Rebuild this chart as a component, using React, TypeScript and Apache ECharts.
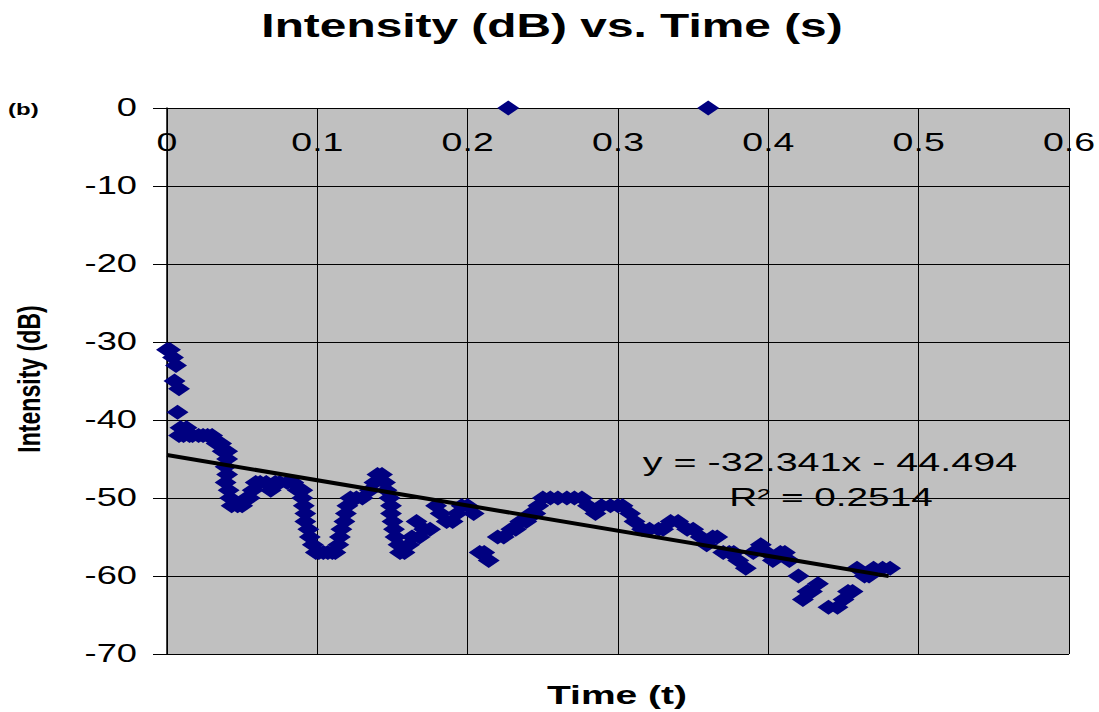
import React, { useEffect, useRef } from "react";
import * as echarts from "echarts";

// Axis ticks and their labels
const xTicks = [0, 0.1, 0.2, 0.3, 0.4, 0.5, 0.6];
const xTickLabels = ["0", "0.1", "0.2", "0.3", "0.4", "0.5", "0.6"];
const yTicks = [0, -10, -20, -30, -40, -50, -60, -70];
const yTickLabels = ["0", "-10", "-20", "-30", "-40", "-50", "-60", "-70"];

// Measured intensity: [time (s), intensity (dB)]
const intensity: [number, number][] = [
  [0.0, -31], [0.002, -31], [0.004, -32], [0.006, -33], [0.005, -35], [0.008, -36],
  [0.007, -39], [0.009, -41], [0.008, -42], [0.011, -42], [0.013, -41], [0.015, -42],
  [0.017, -42], [0.021, -42], [0.024, -42], [0.027, -42], [0.03, -42], [0.033, -43],
  [0.036, -43], [0.037, -44], [0.04, -44], [0.04, -45], [0.039, -46], [0.04, -47],
  [0.039, -48], [0.041, -49], [0.042, -50], [0.043, -51], [0.047, -51], [0.05, -51],
  [0.053, -50], [0.055, -50], [0.057, -49], [0.059, -48], [0.062, -48], [0.066, -48],
  [0.069, -49], [0.072, -48], [0.075, -48], [0.08, -48], [0.084, -48], [0.087, -49],
  [0.09, -49], [0.09, -50], [0.091, -51], [0.092, -52], [0.092, -53], [0.094, -54],
  [0.095, -55], [0.097, -56], [0.099, -57], [0.101, -57], [0.104, -57], [0.107, -57],
  [0.11, -57], [0.112, -57], [0.114, -56], [0.115, -55], [0.116, -54], [0.118, -53],
  [0.119, -52], [0.12, -51], [0.122, -50], [0.126, -50], [0.13, -50], [0.135, -49],
  [0.138, -48], [0.14, -47], [0.143, -47], [0.145, -48], [0.146, -49], [0.148, -50],
  [0.149, -51], [0.149, -52], [0.15, -53], [0.151, -54], [0.152, -55], [0.154, -56],
  [0.155, -57], [0.158, -57], [0.161, -56], [0.163, -55], [0.166, -53], [0.168, -55],
  [0.171, -54], [0.175, -54], [0.179, -51], [0.182, -52], [0.186, -53], [0.19, -53],
  [0.193, -52], [0.196, -51], [0.2, -51], [0.204, -52], [0.208, -57], [0.211, -57],
  [0.214, -58], [0.22, -55], [0.224, -55], [0.227, 0], [0.229, -54], [0.232, -54],
  [0.235, -53], [0.239, -53], [0.242, -52], [0.245, -52], [0.247, -51], [0.25, -50],
  [0.255, -50], [0.26, -50], [0.266, -50], [0.271, -50], [0.276, -50], [0.28, -51],
  [0.285, -52], [0.289, -51], [0.295, -51], [0.3, -51], [0.303, -51], [0.308, -52],
  [0.311, -53], [0.316, -54], [0.321, -54], [0.327, -54], [0.33, -54], [0.335, -53],
  [0.34, -53], [0.346, -54], [0.35, -54], [0.355, -55], [0.359, -56], [0.36, 0],
  [0.363, -55], [0.366, -55], [0.37, -57], [0.374, -57], [0.377, -57], [0.38, -58],
  [0.385, -59], [0.39, -57], [0.395, -56], [0.399, -57], [0.403, -58], [0.408, -57],
  [0.411, -57], [0.414, -58], [0.42, -60], [0.423, -63], [0.426, -62], [0.429, -62],
  [0.433, -61], [0.44, -64], [0.446, -64], [0.45, -63], [0.453, -62], [0.456, -62],
  [0.459, -59], [0.464, -60], [0.467, -60], [0.47, -59], [0.476, -59], [0.481, -59],
];

// Linear trendline as printed on the chart
const trendSlope = -32.341;
const trendIntercept = -44.494;
const trendStart = 0;
const trendEnd = 0.48;
const trendEquation = "y = -32.341x - 44.494";
const trendR2 = "R\u00b2 = 0.2514";

const FONT = "'Liberation Sans', Arial, sans-serif";
const STRETCH = 1.5;

function textEl(
  text: string,
  x: number,
  y: number,
  size: number,
  opts: { bold?: boolean; align?: string; vAlign?: string; sx?: number; sy?: number; rotation?: number } = {}
) {
  const align = opts.align ?? "center";
  const vAlign = opts.vAlign ?? "middle";
  return {
    type: "text",
    x,
    y,
    rotation: opts.rotation ?? 0,
    scaleX: opts.sx ?? STRETCH,
    scaleY: opts.sy ?? 1,
    z: 100,
    style: {
      text,
      fill: "#000",
      fontSize: size,
      fontFamily: FONT,
      fontWeight: opts.bold ? "bold" : "normal",
      align,
      textAlign: align,
      verticalAlign: vAlign,
      textVerticalAlign: vAlign,
    },
  };
}

export default function App() {
  const ref = useRef<HTMLDivElement>(null);

  useEffect(() => {
    if (!ref.current) return;
    const chart = echarts.init(ref.current, null, { renderer: "svg" });

    const trendLine = [
      [trendStart, trendSlope * trendStart + trendIntercept],
      [trendEnd, trendSlope * trendEnd + trendIntercept],
    ];

    chart.setOption({
      animation: false,
      backgroundColor: "#ffffff",
      grid: {
        left: 167,
        right: 30,
        top: 108,
        bottom: 58,
        show: true,
        backgroundColor: "#c0c0c0",
        borderWidth: 0,
      },
      xAxis: {
        type: "value",
        min: 0,
        max: 0.6,
        interval: 0.1,
        axisLine: { show: true, onZero: true, lineStyle: { color: "#000", width: 1 } },
        axisTick: { show: false },
        axisLabel: { show: false },
        splitLine: { show: true, lineStyle: { color: "#000", width: 1 } },
      },
      yAxis: {
        type: "value",
        min: -70,
        max: 0,
        interval: 10,
        axisLine: { show: true, onZero: false, lineStyle: { color: "#000", width: 1.5 } },
        axisTick: { show: true, length: 14, lineStyle: { color: "#000", width: 1 } },
        axisLabel: { show: false },
        splitLine: { show: true, lineStyle: { color: "#000", width: 1 } },
      },
      series: [
        {
          type: "scatter",
          data: intensity,
          symbol: "diamond",
          symbolSize: [22, 15],
          itemStyle: { color: "#000080", opacity: 1 },
          clip: false,
          z: 3,
        },
        {
          type: "line",
          data: trendLine,
          symbol: "none",
          lineStyle: { color: "#000", width: 4 },
          z: 4,
        },
      ],
    });

    const toPx = (x: number, y: number) =>
      chart.convertToPixel({ gridIndex: 0 }, [x, y]) as number[];

    const graphics: any[] = [];
    xTicks.forEach((v, i) => {
      const [gx] = toPx(v, 0);
      graphics.push(textEl(xTickLabels[i], gx, 142, 25));
    });
    yTicks.forEach((v, i) => {
      const [, gy] = toPx(0, v);
      graphics.push(textEl(yTickLabels[i], 137, gy, 25, { align: "right", sx: 1.45 }));
    });
    graphics.push(textEl("Intensity (dB) vs. Time (s)", 552, 26, 33, { bold: true, sx: 1.45 }));
    graphics.push(textEl("(b)", 8, 110, 16, { bold: true, align: "left", sx: 1.5 }));
    graphics.push(textEl("Time (t)", 617, 695, 26, { bold: true, sx: 1.5 }));
    graphics.push(
      textEl("Intensity (dB)", 29, 379, 22, { bold: true, rotation: Math.PI / 2, sx: 1.05, sy: 1.45 })
    );
    graphics.push(textEl(trendEquation, 830, 462, 25, { sx: 1.58 }));
    graphics.push(textEl(trendR2, 831, 497, 25, { sx: 1.55 }));

    chart.setOption({ graphic: graphics });

    return () => chart.dispose();
  }, []);

  return (
    <div
      ref={ref}
      style={{ position: "absolute", left: 0, top: 0, width: 1099, height: 712 }}
    />
  );
}
